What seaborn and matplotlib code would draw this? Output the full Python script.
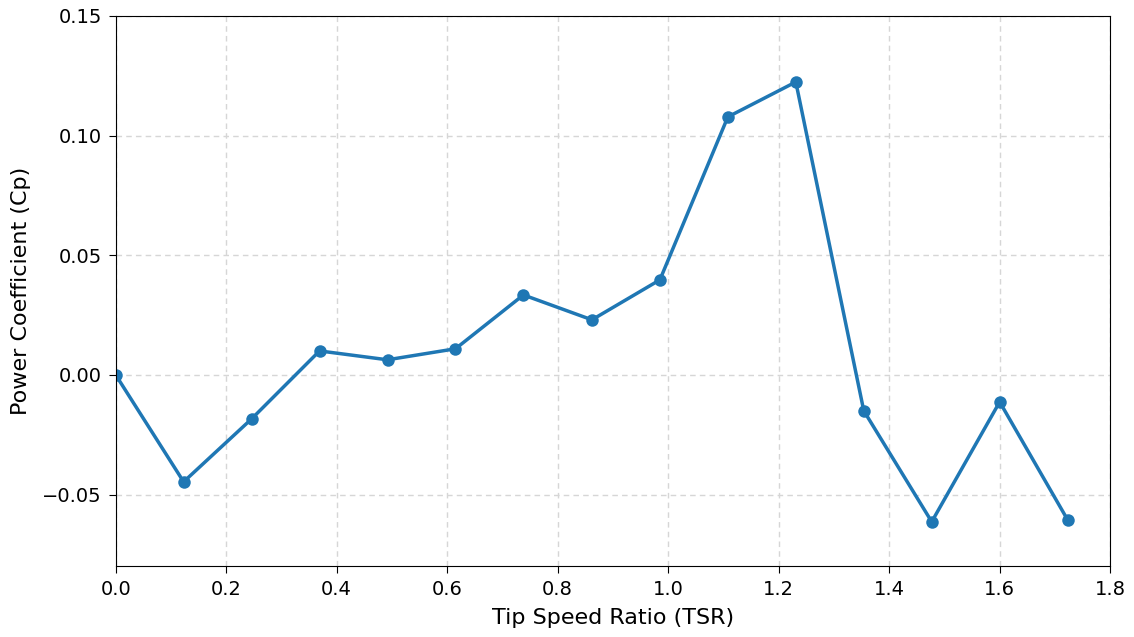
import numpy as np
import pandas as pd
import seaborn as sns
import matplotlib
matplotlib.use("Agg")
import matplotlib.pyplot as plt

# datos
tsr = [0.0, 0.123, 0.246, 0.369, 0.492, 0.615, 0.738, 0.862, 0.985,
       1.108, 1.231, 1.354, 1.477, 1.600, 1.723]
cp = [0.0, -0.0447, -0.0184, 0.0100, 0.0063, 0.0109, 0.0334, 0.0230,
      0.0397, 0.1078, 0.1224, -0.0150, -0.0614, -0.0113, -0.0606]

df = pd.DataFrame({"TSR": tsr, "Cp": cp})

sns.set_style("ticks")
plt.rcParams['font.family'] = ['DejaVu Sans']
for k in ["text.color", "axes.labelcolor", "xtick.color", "ytick.color", "axes.edgecolor"]:
    plt.rcParams[k] = "black"

fig, ax = plt.subplots(figsize=(11.34, 6.37), dpi=100)
sns.lineplot(x="TSR", y="Cp", data=df, marker="o", color="#1f77b4",
             linewidth=2.5, markersize=9, markeredgewidth=0, ax=ax)

ax.set_xlim(0, 1.8)
ax.set_ylim(-0.08, 0.15)
ax.set_xticks(np.arange(0, 1.81, 0.2))
ax.set_yticks([-0.05, 0.0, 0.05, 0.10, 0.15])
ax.grid(True, linestyle="--", color="#d6d6d6", linewidth=1, dashes=(4, 3))
ax.set_xlabel("Tip Speed Ratio (TSR)", fontsize=16, labelpad=6)
ax.set_ylabel("Power Coefficient (Cp)", fontsize=16, labelpad=8)
ax.tick_params(labelsize=14, length=5, pad=5)

fig.subplots_adjust(left=0.102, right=0.979, top=0.975, bottom=0.111)
plt.savefig("out.png", dpi=100)
